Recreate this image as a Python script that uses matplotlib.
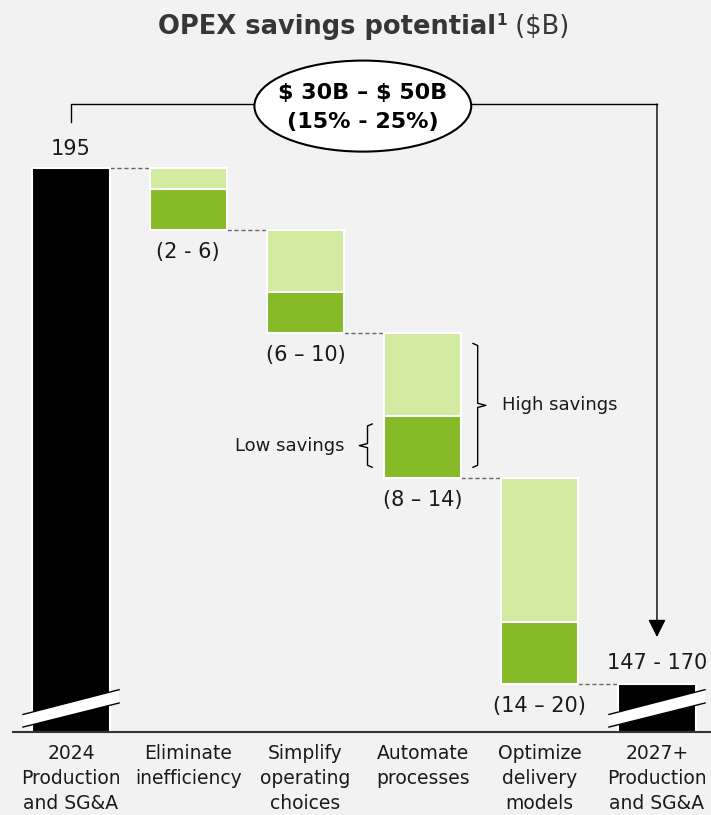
import matplotlib
matplotlib.use("Agg")
import matplotlib.pyplot as plt
from matplotlib.patches import Ellipse, Polygon

# waterfall values ($B)
categories = ["2024\nProduction\nand SG&A", "Eliminate\ninefficiency", "Simplify\noperating\nchoices",
              "Automate\nprocesses", "Optimize\ndelivery\nmodels", "2027+\nProduction\nand SG&A"]
start_value = 195
low_savings = [2, 6, 8, 14]
high_savings = [6, 10, 14, 20]
low_band = [4, 4, 6, 6]          # height of the dark "low savings" block inside each step
step_labels = ["(2 - 6)", "(6 – 10)", "(8 – 14)", "(14 – 20)"]
end_label = "147 - 170"
total_label = "$ 30B – $ 50B\n(15% - 25%)"

BG = "#f2f2f2"
LIGHT = "#d3eaa1"
DARK = "#86bb27"
TXT = "#1a1a1a"
NARROW = ["Liberation Sans Narrow", "DejaVu Sans Condensed", "DejaVu Sans"]

fig = plt.figure(figsize=(7.11, 8.15), dpi=100, facecolor=BG)
ax = fig.add_axes([0, 83 / 815, 1, 732 / 815])
ax.set_facecolor(BG)
floor = 140.35
ax.set_ylim(floor, 211.28)
ax.set_xlim(-0.606, 5.461)
w = 0.66

# start bar
ax.bar(0, start_value - floor, bottom=floor, width=w, color="black", edgecolor="white", linewidth=1.5, zorder=2)

level = start_value
tops = [start_value]
for i, (hi, band) in enumerate(zip(high_savings, low_band)):
    x = i + 1
    bottom = level - hi
    ax.bar(x, hi - band, bottom=bottom + band, width=w, color=LIGHT, edgecolor="white", linewidth=1.5, zorder=2)
    ax.bar(x, band, bottom=bottom, width=w, color=DARK, edgecolor="white", linewidth=1.5, zorder=2)
    ax.annotate(step_labels[i], (x, bottom), xytext=(0, -16), textcoords="offset points",
                ha="center", va="center", fontsize=15, color=TXT)
    level = bottom
    tops.append(level)

end_value = level
ax.bar(5, end_value - floor, bottom=floor, width=w, color="black", edgecolor="white", linewidth=1.5, zorder=2)

# dashed connectors between steps
for i, lv in enumerate(tops):
    ax.plot([i + w / 2, i + 1 - w / 2], [lv, lv], color="#666666", lw=1, ls=(0, (3, 2)), zorder=1)

ax.annotate(str(start_value), (0, start_value), xytext=(0, 14), textcoords="offset points",
            ha="center", va="center", fontsize=15, color=TXT)
ax.annotate(end_label, (5, end_value), xytext=(0, 15), textcoords="offset points",
            ha="center", va="center", fontsize=15, color=TXT)

# axis break stripes
for x in (0, 5):
    xl, xr = x - 0.41, x + 0.41
    lower = [(xl, 140.83), (xr, 143.16)]
    upper = [(xl, 142.05), (xr, 144.45)]
    ax.add_patch(Polygon(lower + upper[::-1], closed=True, facecolor="white", edgecolor="none", zorder=3))
    for edge in (lower, upper):
        ax.plot([p[0] for p in edge], [p[1] for p in edge], color="black", lw=1, zorder=4)

# braces on the "Automate processes" step
bx = 3
b_top, b_bot = tops[2], tops[3]
hx0, hx1 = bx + w / 2 + 0.1, bx + w / 2 + 0.14
ht, hb = b_top - 1.0, b_bot + 1.0
hm = (ht + hb) / 2
ax.plot([hx0, hx1, hx1, hx1 + 0.07, hx1, hx1, hx0],
        [ht, ht - 0.2, hm + 0.2, hm, hm - 0.2, hb + 0.2, hb], color="black", lw=1)
ax.text(hx1 + 0.21, hm, "High savings", ha="left", va="center", fontsize=13, color=TXT)

lx0, lx1 = bx - w / 2 - 0.1, bx - w / 2 - 0.14
lt, lb = b_bot + low_band[2] - 0.8, b_bot + 1.0
lm = (lt + lb) / 2
ax.plot([lx0, lx1, lx1, lx1 - 0.07, lx1, lx1, lx0],
        [lt, lt - 0.2, lm + 0.2, lm, lm - 0.2, lb + 0.2, lb], color="black", lw=1)
ax.text(lx1 - 0.2, lm, "Low savings", ha="right", va="center", fontsize=13, color=TXT)

# total savings bracket with arrow into the end bar
by = 201.2
ax.plot([0, 0, 5], [199.46, by, by], color="black", lw=1, zorder=1)
ax.annotate("", xy=(5, end_value + 4.55), xytext=(5, by),
            arrowprops=dict(arrowstyle="-|>", color="black", lw=1, mutation_scale=27, shrinkA=0, shrinkB=0))
ax.add_patch(Ellipse((2.49, 201.0), 1.85, 8.82, facecolor="white", edgecolor="black", lw=1.5, zorder=3))
ax.text(2.49, 200.9, total_label, ha="center", va="center", fontsize=16, fontweight="bold",
        family=NARROW, linespacing=1.55, parse_math=False, zorder=4)

# axes: only the baseline
for s in ("left", "right", "top"):
    ax.spines[s].set_visible(False)
ax.spines["bottom"].set_bounds(-0.495, 5.461)
ax.spines["bottom"].set_linewidth(1.5)
ax.spines["bottom"].set_color("#333333")
ax.set_yticks([])
ax.set_xticks(range(6))
ax.set_xticklabels(categories, fontsize=13.5, color=TXT, linespacing=1.42)
ax.tick_params(axis="x", length=0, pad=8.5)

# title: bold part, superscript, plain unit
r = fig.canvas.get_renderer()
ty = 1 - 34 / 815
t1 = fig.text(0, ty, "OPEX savings potential", fontsize=18.5, fontweight="bold", family=NARROW,
              color="#363636", va="baseline")
w1 = t1.get_window_extent(r).width
t2 = fig.text(0, ty + 9 / 815, "1", fontsize=11, fontweight="bold", family=NARROW, color="#363636", va="baseline")
w2 = t2.get_window_extent(r).width
t3 = fig.text(0, ty, " ($B)", fontsize=18.5, family=NARROW, color="#363636", va="baseline", parse_math=False)
w3 = t3.get_window_extent(r).width
x0 = 363 - (w1 + w2 + w3) / 2
t1.set_x(x0 / 711)
t2.set_x((x0 + w1 + 1) / 711)
t3.set_x((x0 + w1 + w2 + 1) / 711)

fig.savefig("out.png", dpi=100, facecolor=BG)
